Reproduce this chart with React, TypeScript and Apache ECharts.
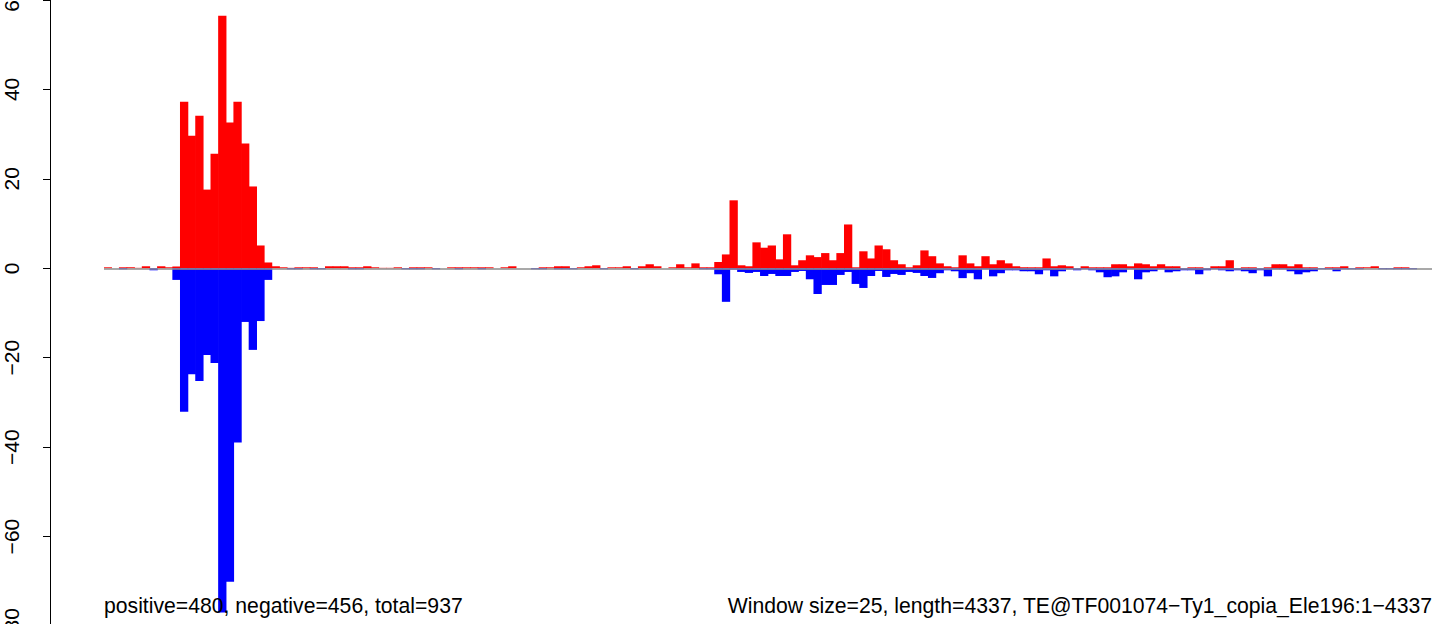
import React, { useEffect, useRef } from "react";
import * as echarts from "echarts";

const positiveValues: number[] = [
  0.22, 0, 0.22, 0.22, 0.1, 0.45, 0, 0.45, 0.22, 0.4,
  37.25, 29.65, 34.1, 17.6, 25.6, 56.5, 32.6, 37.25, 27.9, 18.3,
  5.1, 1.3, 0.45, 0.22, 0.1, 0.22, 0.22, 0.22, 0, 0.45,
  0.45, 0.45, 0.22, 0.22, 0.45, 0.22, 0.1, 0.1, 0.22, 0,
  0.22, 0.22, 0.22, 0, 0, 0.22, 0.22, 0.22, 0.22, 0.22,
  0.22, 0, 0.22, 0.45, 0, 0, 0, 0.22, 0.22, 0.45,
  0.45, 0, 0.22, 0.45, 0.67, 0, 0.22, 0.22, 0.45, 0,
  0.45, 0.9, 0.45, 0, 0.22, 0.9, 0.22, 1.1, 0.22, 0.22,
  1.4, 3.1, 15.2, 0.67, 0.45, 5.8, 4.6, 5.1, 2.0, 7.6,
  0.67, 1.8, 2.9, 2.5, 3.4, 1.8, 3.4, 9.8, 0.22, 3.8,
  2.2, 5.1, 4.25, 1.8, 0.9, 0.22, 0.67, 4.0, 2.7, 1.1,
  0.45, 0.22, 2.9, 1.1, 0.45, 2.7, 0.9, 1.8, 1.1, 0.45,
  0.22, 0.22, 0.22, 2.2, 0.45, 0.67, 0.45, 0, 0.45, 0.22,
  0.22, 0.22, 0.9, 0.9, 0.45, 1.1, 0.9, 0.45, 0.9, 0.45,
  0.45, 0, 0.22, 0.22, 0, 0.45, 0.45, 1.8, 0, 0.22,
  0.22, 0, 0.22, 0.9, 0.9, 0.45, 0.9, 0.22, 0.22, 0,
  0.22, 0.22, 0.45, 0, 0.22, 0.22, 0.45, 0, 0, 0.22,
  0.22, 0, 0, 0,
];

const negativeValues: number[] = [
  0, 0, -0.22, 0, 0, 0, -0.45, 0, 0, -2.6,
  -32.1, -23.7, -25.2, -19.4, -21.2, -77.0, -70.1, -38.95, -12.0, -18.25,
  -11.8, -2.6, 0, 0, -0.22, -0.22, 0, -0.22, -0.22, 0,
  0, 0, -0.22, -0.22, 0, 0, 0, 0, 0, -0.22,
  -0.22, -0.22, 0, -0.22, 0, 0, -0.22, 0, 0, -0.22,
  0, 0, 0, 0, 0, 0, -0.22, -0.22, 0, -0.22,
  -0.22, -0.22, 0, 0, 0, -0.22, 0, 0, 0, -0.22,
  0, 0, 0, 0, 0, 0, 0, 0, -0.22, -0.22,
  -1.34, -7.5, -0.3, -0.82, -1.04, -0.82, -1.72, -1.27, -1.72, -1.72,
  -0.82, -0.6, -2.46, -5.75, -3.73, -3.73, -1.49, -0.82, -3.5, -4.4,
  -1.72, -0.6, -1.94, -1.27, -1.49, -0.82, -1.04, -1.72, -2.16, -1.1,
  -0.45, -0.67, -2.2, -1.1, -2.46, -0.22, -1.8, -1.1, -0.45, -0.45,
  -0.67, -0.67, -1.34, -0.45, -1.8, -0.67, -0.22, -0.45, -0.22, -0.45,
  -0.9, -2.0, -1.8, -0.9, -0.22, -2.46, -0.9, -0.67, -0.22, -0.9,
  -0.67, -0.45, -0.45, -1.34, -0.45, -0.22, -0.45, -0.67, -0.45, -0.67,
  -1.1, -0.45, -1.8, -0.22, -0.22, -0.67, -1.34, -0.9, -0.67, -0.22,
  -0.22, -0.67, -0.22, -0.22, -0.22, 0, 0, -0.22, -0.22, -0.22,
  -0.22, -0.22, 0, 0,
];

const windowIndex: string[] = positiveValues.map((_, i) => String(i + 1));

const yMin = -80;
const yMax = 60;
const yStep = 20;

const leftNote = "positive=480, negative=456, total=937";
const rightNote = "Window size=25, length=4337, TE@TF001074\u2212Ty1_copia_Ele196:1\u22124337";

const FONT = "'Liberation Sans', Arial, Helvetica, sans-serif";

// zero-height windows are left empty so only the grey baseline shows there
const asBars = (vals: number[]) => vals.map((v) => (v === 0 ? "-" : v));

export default function App() {
  const ref = useRef<HTMLDivElement>(null);

  useEffect(() => {
    if (!ref.current) return;
    const chart = echarts.init(ref.current, null, { renderer: "svg" });
    chart.setOption({
      animation: false,
      backgroundColor: "#ffffff",
      grid: {
        left: 104,
        right: 12,
        top: 0,
        bottom: -2,
        containLabel: false,
        outerBoundsMode: "none",
      },
      xAxis: {
        type: "category",
        data: windowIndex,
        boundaryGap: true,
        axisLine: { show: false },
        axisTick: { show: false },
        axisLabel: { show: false },
        splitLine: { show: false },
      },
      yAxis: {
        type: "value",
        min: yMin,
        max: yMax,
        interval: yStep,
        offset: 54,
        axisLine: { show: true, lineStyle: { color: "#000", width: 1 } },
        axisTick: { show: true, length: 7, lineStyle: { color: "#000", width: 1 } },
        axisLabel: {
          show: true,
          rotate: 90,
          margin: 28,
          color: "#000",
          fontSize: 21,
          fontFamily: FONT,
          formatter: (v: number) => (v < 0 ? "\u2212" + Math.abs(v) : String(v)),
        },
        splitLine: { show: false },
      },
      series: [
        {
          type: "line",
          data: [],
          z: 1,
          silent: true,
          markLine: {
            symbol: "none",
            silent: true,
            label: { show: false },
            lineStyle: { color: "#8c8c8c", width: 1.5, type: "solid" },
            data: [{ yAxis: 0 }],
          },
        },
        {
          type: "bar",
          name: "positive",
          data: asBars(positiveValues),
          barWidth: 8.3,
          barGap: "-100%",
          itemStyle: { color: "#ff0000" },
          z: 2,
        },
        {
          type: "bar",
          name: "negative",
          data: asBars(negativeValues),
          barWidth: 8.3,
          barGap: "-100%",
          itemStyle: { color: "#0000ff" },
          z: 2,
        },
      ],
      graphic: [
        {
          type: "text",
          x: 104,
          y: 605,
          z: 100,
          style: {
            text: leftNote,
            fill: "#000",
            font: `21.2px ${FONT}`,
            align: "left",
            verticalAlign: "middle",
          },
        },
        {
          type: "text",
          x: 1432,
          y: 605,
          z: 100,
          style: {
            text: rightNote,
            fill: "#000",
            font: `21.2px ${FONT}`,
            align: "right",
            verticalAlign: "middle",
          },
        },
      ],
    });
    return () => chart.dispose();
  }, []);

  return (
    <div
      ref={ref}
      style={{ position: "fixed", left: 0, top: 0, width: 1444, height: 624, background: "#fff" }}
    />
  );
}
